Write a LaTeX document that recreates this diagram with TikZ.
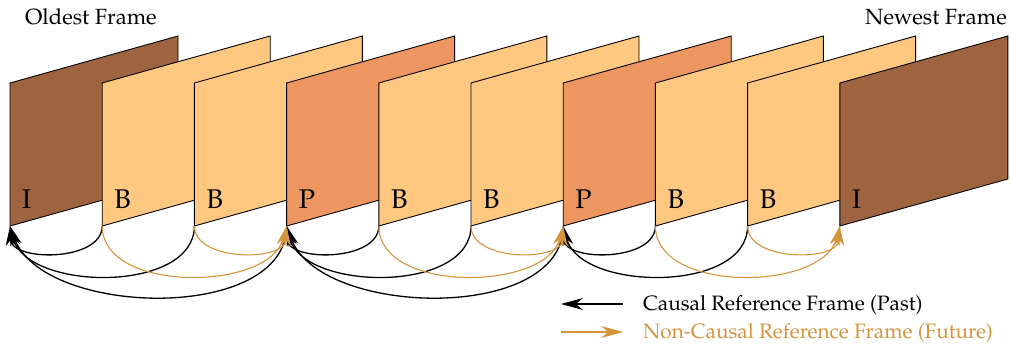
\documentclass[tikz,border=0pt]{standalone}
\usepackage[T1]{fontenc}
\usepackage{mathpazo}
\usetikzlibrary{arrows.meta}
\definecolor{ibrown}{RGB}{158,100,64}
\definecolor{bfill}{RGB}{254,200,128}
\definecolor{pfill}{RGB}{238,150,98}
\definecolor{fut}{RGB}{212,148,60}
\begin{document}
\begin{tikzpicture}[x=1pt,y=1pt,
  frame/.style={draw=black, line width=0.9pt, line join=miter},
  lbl/.style={anchor=base west, font=\fontsize{27}{30}\selectfont, inner sep=0pt},
  ttl/.style={inner sep=0pt, font=\fontsize{22}{26}\selectfont},
  leg/.style={anchor=base west, inner sep=0pt, font=\fontsize{20.8}{24}\selectfont},
  past/.style={draw=black, line width=1.3pt, -{Stealth[length=20pt,width=10pt,inset=6pt]}},
  future/.style={draw=fut, line width=1.1pt, -{Stealth[length=20pt,width=10pt,inset=6pt]}},
  legtip/.style={-{Stealth[length=22pt,width=12pt,inset=7pt]}}]
\useasboundingbox (0,0) rectangle (1011,-344);
\foreach \i/\c/\t in {0/ibrown/I,1/bfill/B,2/bfill/B,3/pfill/P,4/bfill/B,5/bfill/B,6/pfill/P,7/bfill/B,8/bfill/B,9/ibrown/I} {
  \coordinate (f\i) at ({10+92.2*\i},-226);
  \filldraw[frame, fill=\c] (f\i) -- ++(0,143) -- ++(168,47) -- ++(0,-143) -- cycle;
  \node[lbl] (l\i) at ({22+92.2*\i},-209) {\t};
}
% causal (past) references
\draw[past] (f1) to[out=-90,in=-88,looseness=1] (f0);
\draw[past] (f2) to[out=-90,in=-75,looseness=0.94] (f0);
\draw[past] (f3) to[out=-90,in=-70,looseness=0.9] (f0);
\draw[past] (f4) to[out=-90,in=-88,looseness=1] (f3);
\draw[past] (f5) to[out=-90,in=-75,looseness=0.94] (f3);
\draw[past] (f6) to[out=-90,in=-70,looseness=0.9] (f3);
\draw[past] (f7) to[out=-90,in=-88,looseness=1] (f6);
\draw[past] (f8) to[out=-90,in=-75,looseness=0.94] (f6);
% non-causal (future) references
\draw[future] (f2) to[out=-90,in=-92,looseness=1] (f3);
\draw[future] (f1) to[out=-90,in=-105,looseness=0.94] (f3);
\draw[future] (f5) to[out=-90,in=-92,looseness=1] (f6);
\draw[future] (f4) to[out=-90,in=-105,looseness=0.94] (f6);
\draw[future] (f8) to[out=-90,in=-92,looseness=1] (f9);
\draw[future] (f7) to[out=-90,in=-105,looseness=0.94] (f9);
% titles
\node[ttl, anchor=base west] (old) at (25,-25) {Oldest Frame};
\node[ttl, anchor=base east] (new) at (1007,-25) {Newest Frame};
% legend
\coordinate (pa) at (623,-304);
\coordinate (pb) at (561,-304);
\coordinate (fa) at (561,-332);
\coordinate (fb) at (623,-332);
\draw[past, legtip] (pa) -- (pb);
\draw[future, legtip] (fa) -- (fb);
\node[leg] (lp) at (643,-311) {Causal Reference Frame (Past)};
\node[leg, text=fut] (lf) at (643,-338) {Non-Causal Reference Frame (Future)};
\end{tikzpicture}
\end{document}
